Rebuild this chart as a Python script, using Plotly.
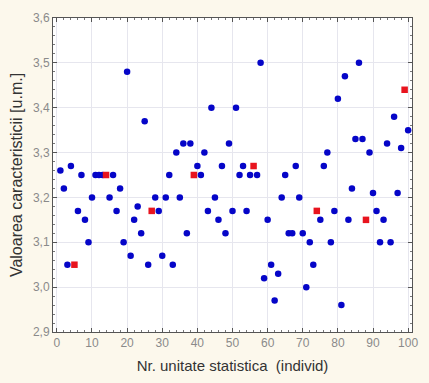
import plotly.graph_objects as go

x_vals = list(range(1, 101))
y_vals = [3.26, 3.22, 3.05, 3.27, 3.05, 3.17, 3.25, 3.15, 3.10, 3.20,
          3.25, 3.25, 3.25, 3.25, 3.20, 3.25, 3.17, 3.22, 3.10, 3.48,
          3.07, 3.15, 3.18, 3.12, 3.37, 3.05, 3.17, 3.20, 3.17, 3.07,
          3.20, 3.25, 3.05, 3.30, 3.20, 3.32, 3.12, 3.32, 3.25, 3.27,
          3.25, 3.30, 3.17, 3.40, 3.20, 3.15, 3.27, 3.12, 3.32, 3.17,
          3.40, 3.25, 3.27, 3.17, 3.25, 3.27, 3.25, 3.50, 3.02, 3.15,
          3.05, 2.97, 3.03, 3.20, 3.25, 3.12, 3.12, 3.27, 3.20, 3.12,
          3.00, 3.10, 3.05, 3.17, 3.15, 3.27, 3.30, 3.10, 3.17, 3.42,
          2.96, 3.47, 3.15, 3.22, 3.33, 3.50, 3.33, 3.15, 3.30, 3.21,
          3.17, 3.10, 3.15, 3.32, 3.10, 3.38, 3.21, 3.31, 3.44, 3.35]
red_ids = [5, 14, 27, 39, 56, 74, 88, 99]

x_ticks = [0, 10, 20, 30, 40, 50, 60, 70, 80, 90, 100]
y_ticks = [2.9, 3.0, 3.1, 3.2, 3.3, 3.4, 3.5, 3.6]

bx = [x for x in x_vals if x not in red_ids]
by = [y for x, y in zip(x_vals, y_vals) if x not in red_ids]
rx = [x for x in x_vals if x in red_ids]
ry = [y for x, y in zip(x_vals, y_vals) if x in red_ids]

fig = go.Figure()
fig.add_trace(go.Scatter(x=bx, y=by, mode="markers",
                         marker=dict(symbol="circle", size=6.5, color="#0505c8",
                                     line=dict(width=0)),
                         hoverinfo="x+y"))
fig.add_trace(go.Scatter(x=rx, y=ry, mode="markers",
                         marker=dict(symbol="square", size=6.5, color="#e8141e",
                                     line=dict(width=0)),
                         hoverinfo="x+y"))

axis_common = dict(
    showline=True, linecolor="#555555", linewidth=1, mirror="allticks",
    ticks="inside", ticklen=4, tickcolor="#555555",
    showgrid=True, gridcolor="#e6e6ee", gridwidth=1, zeroline=False,
    tickfont=dict(family="Liberation Sans, Arial", size=12, color="#8a8a8a"),
)

fig.update_layout(
    width=429, height=383,
    margin=dict(l=53, r=11, t=18, b=50),
    paper_bgcolor="#fcf8ec",
    plot_bgcolor="#ffffff",
    showlegend=False,
    separators=",.",
    xaxis=dict(range=[-1.1, 101.1], tickvals=x_ticks,
               title=dict(text="Nr. unitate statistica  (individ)",
                          font=dict(family="Liberation Sans, Arial", size=15, color="#333333"),
                          standoff=11),
               minor=dict(ticks="inside", ticklen=2, tickcolor="#777777", dtick=2, showgrid=False),
               **axis_common),
    yaxis=dict(range=[2.9, 3.6], tickvals=y_ticks, tickformat=".1f",
               title=dict(text="Valoarea caracteristicii [u.m.]",
                          font=dict(family="Liberation Sans, Arial", size=16, color="#333333"),
                          standoff=6),
               minor=dict(ticks="inside", ticklen=2, tickcolor="#777777", dtick=0.02, showgrid=False),
               **axis_common),
)

fig.write_html("out.html")
